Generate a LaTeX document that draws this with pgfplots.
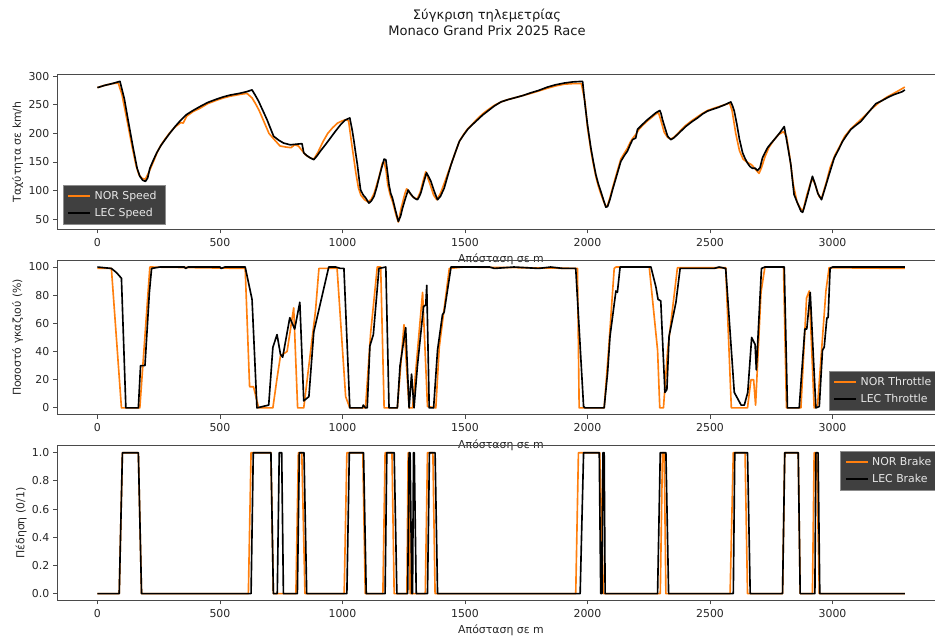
\documentclass[border=0pt]{standalone}
\usepackage{fontspec}
\setmainfont{DejaVu Sans}
\usepackage{pgfplots}
\usepackage{pgfplotstable}
\pgfplotsset{compat=1.18}
\definecolor{nor}{HTML}{FF7F0E}
\definecolor{legbg}{HTML}{404040}
\definecolor{legtx}{HTML}{E8E8E8}
\definecolor{spine}{HTML}{4A4A4A}

% ---------------- Speed ----------------
\pgfplotstableread{
d v
0 280
30 284
60 287
85 288
100 268
120 225
140 180
158 143
170 127
183 121
196 120
210 132
228 150
245 168
260 180
276 190
295 201
317 211
340 219
350 218
364 230
390 238
419 244
450 252
487 258
515 262
542 265
580 268
610 270
631 262
645 252
660 240
680 220
700 200
720 190
745 178
770 176
790 175
805 180
820 178
835 170
850 162
869 157
883 155
900 167
920 185
940 200
960 210
980 218
1000 222
1015 224
1025 222
1035 190
1045 160
1055 130
1065 105
1075 92
1090 84
1105 80
1118 85
1130 96
1150 125
1163 148
1170 150
1178 135
1185 110
1195 92
1205 80
1218 58
1228 45
1240 70
1255 95
1262 103
1275 95
1290 88
1305 85
1318 98
1330 118
1340 133
1350 120
1360 108
1372 92
1385 84
1400 95
1420 118
1440 142
1460 166
1477 186
1494 198
1511 208
1532 217
1552 226
1572 234
1593 241
1620 249
1647 255
1675 259
1701 262
1735 266
1769 270
1800 274
1837 279
1870 283
1905 286
1940 287
1975 287
1990 255
2000 210
2014 170
2024 146
2034 125
2044 108
2054 95
2065 82
2075 72
2082 74
2092 88
2102 104
2119 130
2136 155
2150 165
2163 174
2174 184
2184 191
2197 198
2210 207
2225 214
2245 222
2262 228
2279 234
2290 236
2300 222
2313 202
2327 193
2340 190
2352 193
2367 199
2384 207
2401 214
2425 222
2449 229
2470 235
2490 240
2510 243
2531 246
2560 250
2580 253
2590 240
2605 200
2620 170
2635 155
2650 150
2670 145
2690 135
2700 130
2710 140
2725 160
2740 175
2760 188
2780 198
2800 203
2812 195
2825 160
2840 110
2855 80
2870 68
2880 65
2895 92
2915 120
2925 115
2945 90
2955 86
2975 115
2990 140
3010 162
3030 178
3050 195
3075 208
3100 218
3130 230
3160 243
3190 254
3220 263
3250 270
3275 276
3295 281
}\norspeed

\pgfplotstableread{
d v
0 280
30 284
60 287
92 291
110 260
126 221
146 174
162 139
173 125
185 118
196 116
205 122
214 139
228 153
242 166
258 178
276 189
295 200
317 212
340 223
364 233
390 240
419 247
450 254
487 260
515 264
542 267
580 270
610 273
631 276
645 266
658 256
675 240
692 224
705 210
719 195
740 188
760 183
787 180
810 181
835 182
842 166
855 161
869 157
883 154
895 160
910 169
930 180
951 192
970 203
992 215
1010 223
1030 227
1040 205
1047 186
1054 165
1061 145
1068 120
1074 101
1085 92
1095 87
1108 78
1118 82
1129 90
1140 106
1149 122
1160 140
1170 155
1177 154
1183 135
1190 110
1197 95
1204 87
1216 66
1228 46
1237 55
1245 69
1256 85
1268 101
1277 95
1286 90
1296 86
1306 84
1313 89
1320 96
1332 115
1343 131
1352 124
1361 116
1375 98
1388 84
1400 90
1415 104
1429 125
1443 145
1460 166
1477 186
1494 197
1511 207
1532 216
1552 224
1572 232
1593 239
1620 248
1647 255
1675 259
1701 262
1735 266
1769 271
1800 275
1837 281
1870 285
1905 288
1940 290
1980 291
1990 250
2000 215
2014 174
2024 150
2034 128
2044 112
2054 99
2065 84
2075 71
2082 72
2092 85
2102 101
2119 126
2136 151
2150 161
2163 169
2174 180
2184 189
2197 192
2204 207
2225 216
2245 224
2262 230
2279 236
2295 240
2300 235
2306 224
2316 210
2327 195
2340 189
2352 192
2367 198
2384 205
2401 212
2425 220
2449 227
2470 234
2490 239
2510 242
2531 245
2560 250
2585 255
2592 248
2599 239
2610 215
2620 190
2633 166
2643 156
2653 148
2663 142
2673 139
2684 139
2694 135
2704 140
2714 157
2724 166
2735 175
2748 182
2762 189
2783 200
2803 212
2816 180
2830 145
2836 120
2843 93
2857 78
2871 64
2878 62
2884 70
2900 95
2918 125
2930 110
2940 95
2955 84
2970 105
2986 128
3007 157
3025 172
3041 186
3058 197
3075 207
3095 214
3116 221
3145 236
3177 252
3205 258
3231 264
3252 268
3272 271
3285 273
3295 276
}\lecspeed

% ---------------- Throttle ----------------
\pgfplotstableread{
d v
0 99
57 99
98 0
173 0
214 100
603 99
621 15
637 15
658 0
716 0
733 21
747 37
774 40
801 71
817 0
842 0
890 69
904 99
978 99
1013 8
1030 0
1094 0
1115 53
1142 100
1156 100
1170 0
1224 0
1251 59
1272 0
1286 0
1327 82
1347 1
1381 0
1395 43
1436 99
1497 100
1959 99
1966 0
2068 0
2086 41
2109 99
2116 100
2252 100
2286 41
2295 0
2310 0
2327 41
2367 99.5
2564 99.5
2587 0
2653 0
2667 20
2678 20
2686 2
2708 82
2724 100
2800 100
2812 0
2871 0
2894 78
2905 83
2925 0
2939 2
2973 83
2986 99.5
3295 99
}\northr

\pgfplotstableread{
d v
0 100
57 99
78 96
98 92
116 0
167 0
176 30
194 30
212 82
221 99
255 100
355 100
360 99
370 100
500 100
505 99
520 100
603 100
631 77
651 0
699 2
716 43
733 52
747 38
756 36
785 64
805 56
826 75
842 5
863 8
883 54
944 100
972 100
992 99
1006 99
1030 0
1081 0
1085 2
1094 0
1101 0
1112 44
1126 52
1149 99
1177 100
1190 0
1224 0
1235 30
1258 57
1272 0
1282 24
1292 0
1306 30
1331 72
1340 73
1344 87
1354 0
1372 0
1388 41
1408 66
1415 68
1443 100
1600 100
1620 99
1700 100
1800 99
1850 100
1900 99
1952 99
1984 1
1990 0
2068 0
2082 25
2092 51
2116 83
2122 82
2133 100
2231 100
2259 100
2279 86
2288 77
2299 76
2316 11
2324 13
2333 51
2361 75
2378 99
2517 99
2537 100
2564 99
2599 11
2627 2
2640 2
2654 11
2670 50
2684 45
2689 27
2710 99
2724 100
2803 100
2816 0
2864 0
2873 22
2887 56
2895 56
2909 82
2932 0
2946 1
2959 41
2966 43
2977 64
2982 64
2990 99
3000 100
3295 100
}\lecthr

% ---------------- Brake ----------------
\pgfplotstableread{
d v
0 0
89 0
102 1
167 1
180 0
616 0
627 1
708 1
718 0
810 0
820 1
834 1
847 0
1007 0
1018 1
1083 1
1093 0
1165 0
1174 1
1202 1
1211 0
1263 0
1268 1
1272 1
1276 0
1338 0
1347 1
1369 1
1378 0
1952 0
1963 1
2050 1
2065 0
2297 0
2306 1
2313 1
2320 0
2582 0
2595 1
2643 1
2653 0
2796 0
2805 1
2860 1
2868 0
2918 0
2925 1
2935 1
2946 0
3295 0
}\norbrk

\pgfplotstableread{
d v
0 0
89 0
102 1
167 1
180 0
627 0
636 1
708 1
718 0
734 0
742 1
752 1
759 0
816 0
824 1
843 1
854 0
1018 0
1028 1
1086 1
1097 0
1174 0
1181 1
1211 1
1222 0
1266 0
1272 1
1276 1
1283 0
1286 0
1290 1
1293 1
1301 0
1347 0
1355 1
1378 1
1388 0
1970 0
1984 1
2048 1
2054 0
2059 0
2063 1
2068 1
2072 0
2286 0
2297 1
2320 1
2331 0
2595 0
2601 1
2653 1
2664 0
2796 0
2805 1
2860 1
2868 0
2928 0
2932 1
2941 1
2948 0
3295 0
}\lecbrk

\pgfplotsset{
  legend image code/.code={\draw[#1, line width=1.5pt] (0pt,0pt) -- (20pt,0pt);},
  tele/.style={
    width=814.3pt, height=142.1pt, scale only axis,
    xmin=-165, xmax=3459,
    axis line style={spine, line width=0.8pt},
    tick style={spine, line width=0.8pt},
    tick align=outside, major tick length=3.5pt,
    tick pos=left,
    xtick={0,500,...,3000},
    ticklabel style={font=\fontsize{10}{12}\selectfont, text=black!85},
    xticklabel style={yshift=-1pt},
    label style={font=\fontsize{10}{12}\selectfont, text=black!85},
    ylabel style={yshift=-2pt},
    /pgf/number format/assume math mode=true,
    /pgf/number format/1000 sep={},
    xlabel={Απόσταση σε m},
    legend cell align=left,
    legend style={fill=legbg, draw=black!45, text=legtx,
      font=\fontsize{10}{12}\selectfont, inner xsep=4pt, inner ysep=3.5pt, row sep=2.5pt,
      nodes={inner xsep=3.5pt}},
    every axis plot/.append style={line width=1.5pt, line join=round},
  }
}

\begin{document}
\begin{tikzpicture}
\node[font=\fontsize{12}{14.7}\selectfont, align=center, text=black!90] at (446.6pt,563pt)
  {Σύγκριση τηλεμετρίας\\Monaco Grand Prix 2025 Race};

\begin{axis}[tele, at={(52.27pt,372.8pt)}, anchor=south west,
  ymin=32, ymax=303, ytick={50,100,...,300},
  ylabel={Ταχύτητα σε km/h},
  legend style={at={(0.0065,0.035)}, anchor=south west}]
\addplot[nor] table[x=d,y=v] {\norspeed};
\addlegendentry{NOR Speed}
\addplot[black] table[x=d,y=v] {\lecspeed};
\addlegendentry{LEC Speed}
\end{axis}

\begin{axis}[tele, at={(52.27pt,202.7pt)}, anchor=south west,
  ymin=-5, ymax=105, ytick={0,20,...,100},
  ylabel={Ποσοστό γκαζιού (\%)},
  legend style={at={(0.994,0.03)}, anchor=south east}]
\addplot[nor] table[x=d,y=v] {\northr};
\addlegendentry{NOR Throttle}
\addplot[black] table[x=d,y=v] {\lecthr};
\addlegendentry{LEC Throttle}
\end{axis}

\begin{axis}[tele, at={(52.27pt,32.4pt)}, anchor=south west,
  ymin=-0.05, ymax=1.05, ytick={0,0.2,...,1.0},
  yticklabel style={/pgf/number format/fixed, /pgf/number format/fixed zerofill, /pgf/number format/precision=1},
  ylabel={Πέδηση (0/1)},
  legend style={at={(0.994,0.965)}, anchor=north east}]
\addplot[nor] table[x=d,y=v] {\norbrk};
\addlegendentry{NOR Brake}
\addplot[black] table[x=d,y=v] {\lecbrk};
\addlegendentry{LEC Brake}
\end{axis}

\pgfresetboundingbox
\useasboundingbox (0,0) rectangle (857.4pt,583.2pt);
\end{tikzpicture}
\end{document}
